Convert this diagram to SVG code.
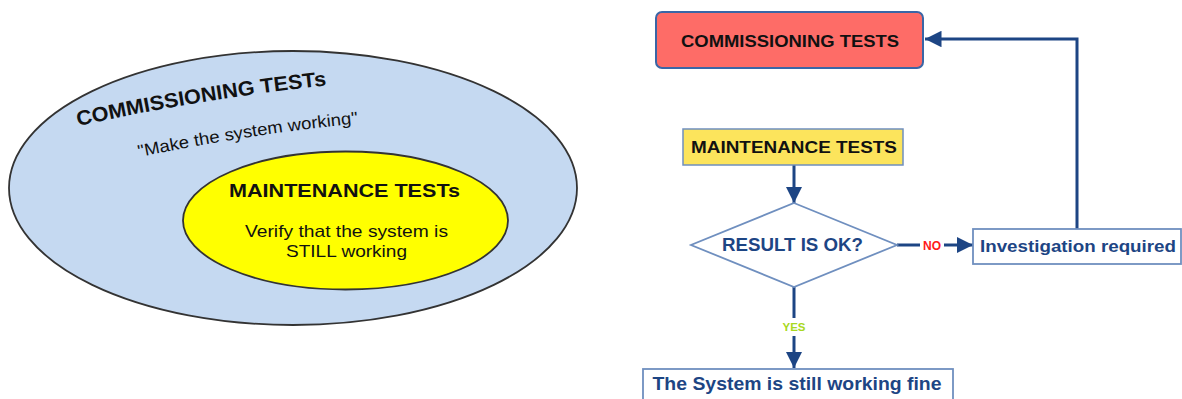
<svg xmlns="http://www.w3.org/2000/svg" width="1182" height="399" viewBox="0 0 1182 399">
  <style>
    .sans { font-family: "Liberation Sans", Arial, sans-serif; }
    .bold { font-weight: bold; }
    .blk { fill: #111111; }
    .navy { fill: #1d4584; }
    .conn { stroke: #1d4584; stroke-width: 3; fill: none; }
    .box { stroke: #3a66a6; stroke-width: 2; }
    .flat { stroke: #6f8fbf; stroke-width: 1.8; fill: #ffffff; }
  </style>
  <defs>
    <marker id="arrow" viewBox="0 0 10 10" refX="10" refY="5" markerWidth="5.5" markerHeight="5.5" markerUnits="strokeWidth" orient="auto">
      <path d="M0,0 L10,5 L0,10 Z" fill="#1d4584"/>
    </marker>
    <path id="arcTitle" d="M78,126 Q204,98 332,85"/>
    <path id="arcSub" d="M139,157 Q250,134 362,123"/>
  </defs>

  <rect width="1182" height="399" fill="#ffffff"/>

  <!-- Left: nested test scopes -->
  <g id="commissioning-scope">
    <ellipse cx="293" cy="188" rx="284" ry="137" fill="#c5d9f1" stroke="#333333" stroke-width="1.8"/>
    <text class="sans bold blk" font-size="20.5"><textPath href="#arcTitle" textLength="252" lengthAdjust="spacingAndGlyphs">COMMISSIONING TESTs</textPath></text>
    <text class="sans blk" font-size="17" fill="#222222"><textPath href="#arcSub" textLength="222" lengthAdjust="spacingAndGlyphs">"Make the system working"</textPath></text>
  </g>

  <g id="maintenance-scope">
    <ellipse cx="345.5" cy="220.5" rx="162.5" ry="69" fill="#ffff00" stroke="#333333" stroke-width="1.8"/>
    <text class="sans bold blk" font-size="18.5" x="344.5" y="197" text-anchor="middle" textLength="231" lengthAdjust="spacingAndGlyphs">MAINTENANCE TESTs</text>
    <text class="sans blk" font-size="16.5" x="346.5" y="237" text-anchor="middle" textLength="203" lengthAdjust="spacingAndGlyphs">Verify that the system is</text>
    <text class="sans blk" font-size="16.5" x="346.5" y="257" text-anchor="middle" textLength="121" lengthAdjust="spacingAndGlyphs">STILL working</text>
  </g>

  <!-- Right: maintenance test flow -->
  <g id="connectors">
    <line class="conn" x1="794" y1="165" x2="794" y2="203" marker-end="url(#arrow)"/>
    <line class="conn" x1="897" y1="245" x2="920" y2="245"/>
    <line class="conn" x1="944" y1="245" x2="973" y2="245" marker-end="url(#arrow)"/>
    <polyline class="conn" points="1077,229 1077,39 925,39" marker-end="url(#arrow)"/>
    <line class="conn" x1="794" y1="287" x2="794" y2="318"/>
    <line class="conn" x1="794" y1="336" x2="794" y2="368" marker-end="url(#arrow)"/>
    <text class="sans bold" font-size="12" x="932" y="250" text-anchor="middle" fill="#ff1a1a">NO</text>
    <text class="sans bold" font-size="11.5" x="794" y="331" text-anchor="middle" fill="#a8d820">YES</text>
  </g>

  <g id="commissioning-tests">
    <rect class="box" x="656" y="12" width="267" height="56" rx="6" fill="#fe6c67"/>
    <text class="sans bold blk" font-size="17" x="790" y="47" text-anchor="middle" textLength="218" lengthAdjust="spacingAndGlyphs">COMMISSIONING TESTS</text>
  </g>

  <g id="maintenance-tests">
    <rect x="683" y="129" width="220" height="36" fill="#fce45c" stroke="#6f8fbf" stroke-width="1.5"/>
    <text class="sans bold blk" font-size="17" x="794" y="153" text-anchor="middle" textLength="206" lengthAdjust="spacingAndGlyphs">MAINTENANCE TESTS</text>
  </g>

  <g id="result-check">
    <polygon class="flat" points="794,203 897,245 794,287 691,245"/>
    <text class="sans bold navy" font-size="18" x="792.5" y="251" text-anchor="middle" textLength="141" lengthAdjust="spacingAndGlyphs">RESULT IS OK?</text>
  </g>

  <g id="investigation">
    <rect class="flat" x="973" y="229" width="208" height="35"/>
    <text class="sans bold navy" font-size="17" x="980" y="252" textLength="196" lengthAdjust="spacingAndGlyphs">Investigation required</text>
  </g>

  <g id="working-fine">
    <rect class="flat" x="643" y="369" width="310" height="40"/>
    <text class="sans bold navy" font-size="18.5" x="797" y="390" text-anchor="middle" textLength="289" lengthAdjust="spacingAndGlyphs">The System is still working fine</text>
  </g>
</svg>
